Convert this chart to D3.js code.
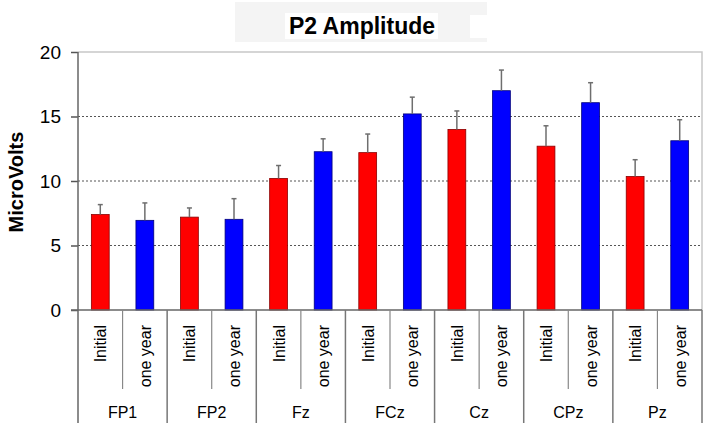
<!DOCTYPE html>
<html>
<head>
<meta charset="utf-8">
<script src="https://cdn.jsdelivr.net/npm/d3@7"></script>
<style>
  body { margin: 0; background: #fff; }
  svg { display: block; font-family: Arial, "Liberation Sans", sans-serif; }
</style>
</head>
<body>
<svg width="709" height="430"></svg>
<script>
// electrode sites and the two sessions
const electrodes = ["FP1", "FP2", "Fz", "FCz", "Cz", "CPz", "Pz"];
const conditions = ["Initial", "one year"];
// mean amplitude per electrode (microvolts)
const initialMean = [7.4, 7.2, 10.2, 12.2, 14.0, 12.7, 10.35];
const oneYearMean = [6.95, 7.03, 12.27, 15.2, 17.0, 16.07, 13.12];
// upper error bar length
const initialErr = [0.77, 0.71, 1.0, 1.44, 1.43, 1.58, 1.3];
const oneYearErr = [1.35, 1.6, 1.0, 1.3, 1.6, 1.55, 1.63];
const yTicks = [0, 5, 10, 15, 20];

const svg = d3.select("svg");
const margin = { top: 52, right: 7, left: 78 };
const plotRight = 709 - margin.right;
const zeroY = 310;

// build flat rows for the bars
const rows = [];
electrodes.forEach((e, i) => {
  rows.push({ site: e, cond: conditions[0], value: initialMean[i], err: initialErr[i] });
  rows.push({ site: e, cond: conditions[1], value: oneYearMean[i], err: oneYearErr[i] });
});

const colors = d3.scaleOrdinal().domain(conditions).range(["#ff0000", "#0000ff"]);
const strokes = d3.scaleOrdinal().domain(conditions).range(["#8a0000", "#00007a"]);

const x0 = d3.scaleBand().domain(electrodes).range([margin.left, plotRight]);
const x1 = d3.scaleBand().domain(conditions).range([0, x0.bandwidth()]);
const y = d3.scaleLinear().domain([0, 20]).range([zeroY, margin.top]);
const barW = x1.bandwidth() * 0.4;

// title box
svg.append("rect").attr("x", 235).attr("y", 2).attr("width", 252).attr("height", 40).attr("fill", "#f4f4f4");
svg.append("rect").attr("x", 285).attr("y", 13).attr("width", 153).attr("height", 26).attr("fill", "#fff");
svg.append("rect").attr("x", 470).attr("y", 15).attr("width", 17).attr("height", 23).attr("fill", "#fff");
svg.append("text")
  .attr("x", 362).attr("y", 34)
  .attr("text-anchor", "middle")
  .attr("font-weight", "bold")
  .attr("font-size", "23px")
  .attr("fill", "#000")
  .text("P2 Amplitude");

// plot frame (top and right in light gray)
svg.append("path")
  .attr("d", `M${margin.left},${y(20)}H${plotRight}V${zeroY}`)
  .attr("fill", "none").attr("stroke", "#c8c8c8").attr("stroke-width", 1.5);

// dotted grid
svg.append("g")
  .selectAll("line")
  .data(yTicks.filter((d) => d > 0 && d < 20))
  .join("line")
  .attr("x1", margin.left).attr("x2", plotRight)
  .attr("y1", (d) => y(d)).attr("y2", (d) => y(d))
  .attr("stroke", "#555").attr("stroke-width", 1)
  .attr("stroke-dasharray", "2,2");

// y axis
const yAxisG = svg.append("g")
  .attr("transform", `translate(${margin.left},0)`)
  .call(d3.axisLeft(y).tickValues(yTicks).tickSize(7).tickPadding(10))
  .call((g) => g.select(".domain").remove());
yAxisG.selectAll(".tick line").attr("stroke", "#555").attr("stroke-width", 1.5);
yAxisG.selectAll(".tick text")
  .attr("font-size", "19px").attr("fill", "#000")
  .attr("font-family", "Arial, 'Liberation Sans', sans-serif");

svg.append("text")
  .attr("transform", "translate(23,182) rotate(-90)")
  .attr("text-anchor", "middle")
  .attr("font-weight", "bold")
  .attr("font-size", "20px")
  .text("MicroVolts");

// bars
const bars = svg.append("g");
bars.selectAll("rect")
  .data(rows)
  .join("rect")
  .attr("x", (d) => x0(d.site) + x1(d.cond) + x1.bandwidth() / 2 - barW / 2)
  .attr("y", (d) => y(d.value))
  .attr("width", barW)
  .attr("height", (d) => zeroY - y(d.value))
  .attr("fill", (d) => colors(d.cond))
  .attr("stroke", (d) => strokes(d.cond))
  .attr("stroke-width", 0.8);

// error bars (upper only)
const errG = svg.append("g").attr("stroke", "#6e6e6e").attr("stroke-width", 1.5);
const cx = (d) => x0(d.site) + x1(d.cond) + x1.bandwidth() / 2;
errG.selectAll("line.v")
  .data(rows)
  .join("line")
  .attr("class", "v")
  .attr("x1", cx).attr("x2", cx)
  .attr("y1", (d) => y(d.value)).attr("y2", (d) => y(d.value + d.err));
errG.selectAll("line.c")
  .data(rows)
  .join("line")
  .attr("class", "c")
  .attr("x1", (d) => cx(d) - 2.5).attr("x2", (d) => cx(d) + 2.5)
  .attr("y1", (d) => y(d.value + d.err)).attr("y2", (d) => y(d.value + d.err));

// y axis line and x axis line
svg.append("line")
  .attr("x1", margin.left).attr("x2", margin.left)
  .attr("y1", y(20)).attr("y2", 423)
  .attr("stroke", "#666").attr("stroke-width", 1.5);
svg.append("line")
  .attr("x1", margin.left - 7).attr("x2", plotRight)
  .attr("y1", zeroY).attr("y2", zeroY)
  .attr("stroke", "#666").attr("stroke-width", 1.5);

// category separators below the axis
const sepG = svg.append("g");
sepG.selectAll("line.inner")
  .data(electrodes)
  .join("line")
  .attr("class", "inner")
  .attr("x1", (d) => x0(d) + x1("one year")).attr("x2", (d) => x0(d) + x1("one year"))
  .attr("y1", zeroY).attr("y2", 389)
  .attr("stroke", "#888").attr("stroke-width", 1.2);
sepG.selectAll("line.outer")
  .data(electrodes)
  .join("line")
  .attr("class", "outer")
  .attr("x1", (d) => x0(d) + x0.bandwidth()).attr("x2", (d) => x0(d) + x0.bandwidth())
  .attr("y1", zeroY).attr("y2", 423)
  .attr("stroke", "#777").attr("stroke-width", 1.5);

// condition labels (rotated)
svg.append("g")
  .selectAll("text")
  .data(rows)
  .join("text")
  .attr("transform", (d) => `translate(${cx(d) + 6},325) rotate(-90)`)
  .attr("text-anchor", "end")
  .attr("font-size", "16px")
  .attr("fill", "#000")
  .text((d) => d.cond);

// electrode labels
svg.append("g")
  .selectAll("text")
  .data(electrodes)
  .join("text")
  .attr("x", (d) => x0(d) + x0.bandwidth() / 2)
  .attr("y", 418)
  .attr("text-anchor", "middle")
  .attr("font-size", "16px")
  .attr("fill", "#000")
  .text((d) => d);
</script>
</body>
</html>
